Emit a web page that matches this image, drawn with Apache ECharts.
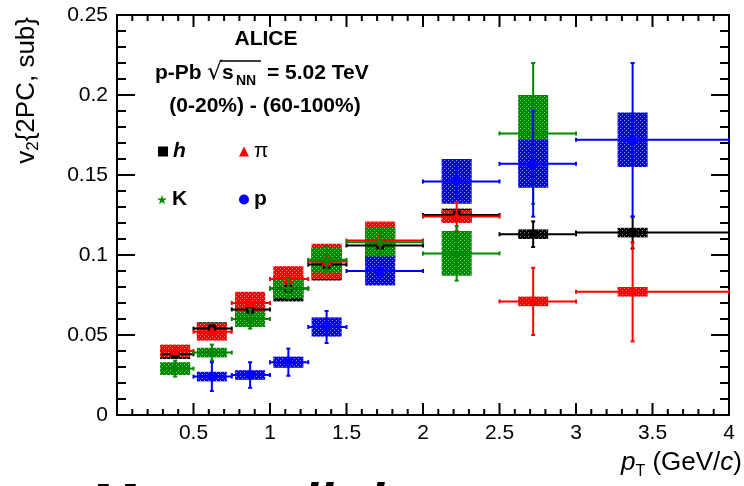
<!DOCTYPE html>
<html>
<head>
<meta charset="utf-8">
<script src="https://cdn.jsdelivr.net/npm/echarts@6/dist/echarts.min.js"></script>
<style>
  html, body { margin: 0; padding: 0; background: #fff; }
  #chart { width: 744px; height: 486px; }
</style>
</head>
<body>
<div id="chart"></div>
<script>
// pT bins (GeV/c)
const binLow  = [0.3, 0.5, 0.75, 1.0, 1.25, 1.5, 2.0, 2.5, 3.0];
const binHigh = [0.5, 0.75, 1.0, 1.25, 1.5, 2.0, 2.5, 3.0, 4.0];
const ptMean  = [0.38, 0.62, 0.87, 1.12, 1.37, 1.72, 2.22, 2.72, 3.37];

// v2{2PC, sub} : value, stat. error, syst. error
const hV     = [0.038, 0.054, 0.066, 0.079, 0.094, 0.106, 0.125, 0.113, 0.114];
const hStat  = [0.002, 0.002, 0.002, 0.002, 0.002, 0.002, 0.003, 0.008, 0.010];
const hSyst  = [0.003, 0.004, 0.006, 0.008, 0.010, 0.010, 0.004, 0.003, 0.003];

const piV    = [0.040, 0.052, 0.070, 0.085, 0.096, 0.109, 0.124, 0.071, 0.077];
const piStat = [0.002, 0.002, 0.002, 0.003, 0.003, 0.003, 0.009, 0.021, 0.031];
const piSyst = [0.004, 0.0055, 0.007, 0.008, 0.011, 0.012, 0.004, 0.003, 0.003];

const kV     = [0.029, 0.039, 0.060, 0.079, 0.097, 0.108, 0.101, 0.176, null];
const kStat  = [0.005, 0.005, 0.006, 0.006, 0.008, 0.008, 0.017, 0.044, null];
const kSyst  = [0.004, 0.003, 0.005, 0.006, 0.008, 0.0095, 0.014, 0.024, null];

const pV     = [null, 0.024, 0.025, 0.033, 0.055, 0.090, 0.146, 0.157, 0.172];
const pStat  = [null, 0.009, 0.008, 0.0085, 0.010, 0.004, 0.010, 0.033, 0.048];
const pSyst  = [null, 0.003, 0.003, 0.0035, 0.006, 0.009, 0.014, 0.015, 0.017];

const xTicks = [0.5, 1, 1.5, 2, 2.5, 3, 3.5, 4];

const FONT = '"Liberation Sans", Arial, sans-serif';
const STAR = 'path://M50,0 L61,35 L98,35 L68,57 L79,91 L50,70 L21,91 L32,57 L2,35 L39,35 Z';

// dotted fill like the ROOT fill style
function dotted(color) {
  const c = document.createElement('canvas');
  c.width = 4; c.height = 4;
  const ctx = c.getContext('2d');
  ctx.fillStyle = color;
  ctx.fillRect(0, 0, 4, 4);
  ctx.fillStyle = 'rgba(255,255,255,0.55)';
  ctx.fillRect(0, 0, 1, 1);
  ctx.fillRect(2, 2, 1, 1);
  return { image: c, repeat: 'repeat' };
}

function marker(kind, x, y, color) {
  if (kind === 'square') return { type: 'rect', shape: { x: x - 4, y: y - 4, width: 8, height: 8 }, style: { fill: color } };
  if (kind === 'triangle') return { type: 'polygon', shape: { points: [[x, y - 5], [x - 5, y + 4], [x + 5, y + 4]] }, style: { fill: color } };
  if (kind === 'circle') return { type: 'circle', shape: { cx: x, cy: y, r: 4.5 }, style: { fill: color } };
  const pts = [];
  for (let i = 0; i < 10; i++) {
    const r = i % 2 ? 2.2 : 5.5;
    const a = -Math.PI / 2 + i * Math.PI / 5;
    pts.push([x + r * Math.cos(a), y + r * Math.sin(a)]);
  }
  return { type: 'polygon', shape: { points: pts }, style: { fill: color } };
}

function boxSeries(name, vals, syst, color) {
  const fill = dotted(color);
  const data = [];
  vals.forEach((v, i) => { if (v != null) data.push([ptMean[i], v, syst[i]]); });
  return {
    name: name, type: 'custom', z: 2, data: data, encode: { x: 0, y: 1 },
    renderItem: function (params, api) {
      const top = api.coord([api.value(0), api.value(1) + api.value(2)]);
      const bot = api.coord([api.value(0), api.value(1) - api.value(2)]);
      return { type: 'rect', shape: { x: top[0] - 15, y: top[1], width: 30, height: bot[1] - top[1] }, style: { fill: fill } };
    }
  };
}

function barSeries(name, vals, stat, color, kind) {
  const data = [];
  vals.forEach((v, i) => { if (v != null) data.push([ptMean[i], v, stat[i], binLow[i], binHigh[i]]); });
  return {
    name: name, type: 'custom', z: 3, data: data, encode: { x: 0, y: 1 },
    itemStyle: { color: color },
    renderItem: function (params, api) {
      const x = api.value(0), y = api.value(1), s = api.value(2);
      const c = api.coord([x, y]);
      const l = api.coord([api.value(3), y]);
      const r = api.coord([api.value(4), y]);
      const t = api.coord([x, y + s]);
      const b = api.coord([x, y - s]);
      const ls = { stroke: color, lineWidth: 2 };
      const ln = (x1, y1, x2, y2) => ({ type: 'line', shape: { x1: x1, y1: y1, x2: x2, y2: y2 }, style: ls });
      return {
        type: 'group',
        children: [
          ln(l[0], c[1], r[0], c[1]),
          ln(c[0], t[1], c[0], b[1]),
          ln(l[0], c[1] - 2, l[0], c[1] + 2),
          ln(r[0], c[1] - 2, r[0], c[1] + 2),
          ln(c[0] - 2, t[1], c[0] + 2, t[1]),
          ln(c[0] - 2, b[1], c[0] + 2, b[1]),
          marker(kind, c[0], c[1], color)
        ]
      };
    }
  };
}

const lineStyle = { color: '#000', width: 2 };
function xAxisDef(pos, labels) {
  return {
    type: 'value', position: pos, min: 0, max: 4, interval: 0.5,
    axisLine: { show: true, onZero: false, lineStyle: lineStyle },
    axisTick: { show: false },
    minorTick: { show: false },
    splitLine: { show: false },
    axisLabel: {
      show: labels, showMinLabel: false, margin: 8, fontFamily: FONT, fontSize: 21, color: '#000',
      formatter: v => xTicks.indexOf(v) >= 0 ? String(v) : ''
    }
  };
}
function yAxisDef(pos, labels) {
  return {
    type: 'value', position: pos, min: 0, max: 0.25, interval: 0.05,
    axisLine: { show: true, onZero: false, lineStyle: lineStyle },
    axisTick: { show: false },
    minorTick: { show: false },
    splitLine: { show: false },
    axisLabel: {
      show: labels, margin: 9, fontFamily: FONT, fontSize: 21, color: '#000',
      formatter: v => String(parseFloat(v.toFixed(2)))
    }
  };
}

function legendItem(name, icon, color, left, top, textStyle) {
  return {
    data: [{ name: name, icon: icon, itemStyle: { color: color } }],
    left: left, top: top, padding: 0, itemWidth: 10, itemHeight: 10, selectedMode: false,
    textStyle: Object.assign({ fontFamily: FONT, fontSize: 21, color: '#000', padding: [0, 0, 0, 0] }, textStyle)
  };
}

const GRID = { left: 117, right: 15, top: 15, bottom: 71 };
const chart = echarts.init(document.getElementById('chart'));
const option = {
  animation: false,
  backgroundColor: '#fff',
  grid: GRID,
  xAxis: [xAxisDef('bottom', true), xAxisDef('top', false)],
  yAxis: [yAxisDef('left', true), yAxisDef('right', false)],
  legend: [
    legendItem('h', 'rect', '#000', 158, 141, { fontWeight: 'bold', fontStyle: 'italic' }),
    legendItem('π', 'triangle', '#ff0000', 239, 141, {}),
    legendItem('K', STAR, '#008800', 157, 189, { fontWeight: 'bold' }),
    legendItem('p', 'circle', '#0000ff', 239, 189, { fontWeight: 'bold' })
  ],
  graphic: [
    { type: 'text', x: 266, y: 39, style: { text: 'ALICE', font: 'bold 21px ' + FONT, fill: '#000', align: 'center', verticalAlign: 'middle' } },
    { type: 'text', x: 155, y: 73, style: { text: 'p-Pb', font: 'bold 21px ' + FONT, fill: '#000', align: 'left', verticalAlign: 'middle' } },
    { type: 'text', x: 207, y: 73, style: { text: '√', font: '24px "DejaVu Sans", sans-serif', fill: '#000', align: 'left', verticalAlign: 'middle' } },
    { type: 'line', shape: { x1: 221, y1: 61, x2: 261, y2: 61 }, style: { stroke: '#000', lineWidth: 1.5 } },
    { type: 'text', x: 222, y: 73, style: { text: 's', font: 'bold 21px ' + FONT, fill: '#000', align: 'left', verticalAlign: 'middle' } },
    { type: 'text', x: 236, y: 81, style: { text: 'NN', font: 'bold 14px ' + FONT, fill: '#000', align: 'left', verticalAlign: 'middle' } },
    { type: 'text', x: 267, y: 73, style: { text: '= 5.02 TeV', font: 'bold 21px ' + FONT, fill: '#000', align: 'left', verticalAlign: 'middle' } },
    { type: 'text', x: 265, y: 106, style: { text: '(0-20%) - (60-100%)', font: 'bold 21px ' + FONT, fill: '#000', align: 'center', verticalAlign: 'middle' } },
    {
      type: 'text', x: 27, y: 17, rotation: Math.PI / 2,
      style: {
        text: '{n|v}{sub|2}{n|{2PC, sub}}', align: 'right', verticalAlign: 'middle',
        fontFamily: FONT, fontSize: 26, fill: '#000', lineHeight: 30,
        rich: {
          n: { fontFamily: FONT, fontSize: 26, verticalAlign: 'middle', lineHeight: 30 },
          sub: { fontFamily: FONT, fontSize: 17, verticalAlign: 'bottom', lineHeight: 30 }
        }
      }
    },
    {
      type: 'text', x: 742, y: 463,
      style: {
        text: '{i|p}{sub|T}{n| (GeV/}{i|c}{n|)}', align: 'right', verticalAlign: 'middle',
        fontFamily: FONT, fontSize: 26, fill: '#000',
        rich: {
          i: { fontFamily: FONT, fontSize: 26, fontStyle: 'italic', lineHeight: 34, verticalAlign: 'middle' },
          n: { fontFamily: FONT, fontSize: 26, lineHeight: 34, verticalAlign: 'middle' },
          sub: { fontFamily: FONT, fontSize: 16, lineHeight: 34, verticalAlign: 'bottom' }
        }
      }
    },
    { type: 'text', x: 90, y: 506, style: { text: 'Mass splitting', font: 'italic bold 54px ' + FONT, fill: '#000', align: 'left', verticalAlign: 'middle' } }
  ],
  series: [
    boxSeries('h syst', hV, hSyst, '#000000'),
    boxSeries('π syst', piV, piSyst, '#ff0000'),
    boxSeries('K syst', kV, kSyst, '#008800'),
    boxSeries('p syst', pV, pSyst, '#0000ff'),
    barSeries('h', hV, hStat, '#000000', 'square'),
    barSeries('π', piV, piStat, '#ff0000', 'triangle'),
    barSeries('K', kV, kStat, '#008800', 'star'),
    barSeries('p', pV, pStat, '#0000ff', 'circle')
  ]
};
chart.setOption(option);

// ROOT style inward ticks on all four sides, placed through the chart's axis scale
function toPx(x, y) {
  let p = null;
  try { p = chart.convertToPixel({ xAxisIndex: 0, yAxisIndex: 0 }, [x, y]); } catch (e) { p = null; }
  if (!p || isNaN(p[0]) || isNaN(p[1])) {
    const w = 744 - GRID.left - GRID.right, h = 486 - GRID.top - GRID.bottom;
    p = [GRID.left + x / 4 * w, GRID.top + h - y / 0.25 * h];
  }
  return p;
}
const c0 = toPx(0, 0);
const c1 = toPx(4, 0.25);
const ts = { stroke: '#000', lineWidth: 2 };
const ticks = [];
for (let i = 0; i <= 40; i++) {
  const x = toPx(i / 10, 0)[0];
  const len = i % 5 === 0 ? 12 : 6;
  ticks.push({ type: 'line', z: 100, shape: { x1: x, y1: c0[1], x2: x, y2: c0[1] - len }, style: ts });
  ticks.push({ type: 'line', z: 100, shape: { x1: x, y1: c1[1], x2: x, y2: c1[1] + len }, style: ts });
}
for (let i = 0; i <= 25; i++) {
  const y = toPx(0, i / 100)[1];
  const len = i % 5 === 0 ? 18 : 9;
  ticks.push({ type: 'line', z: 100, shape: { x1: c0[0], y1: y, x2: c0[0] + len, y2: y }, style: ts });
  ticks.push({ type: 'line', z: 100, shape: { x1: c1[0], y1: y, x2: c1[0] - len, y2: y }, style: ts });
}
option.graphic = option.graphic.concat(ticks);
chart.setOption(option, true);
window.onresize = chart.resize;
</script>
</body>
</html>
